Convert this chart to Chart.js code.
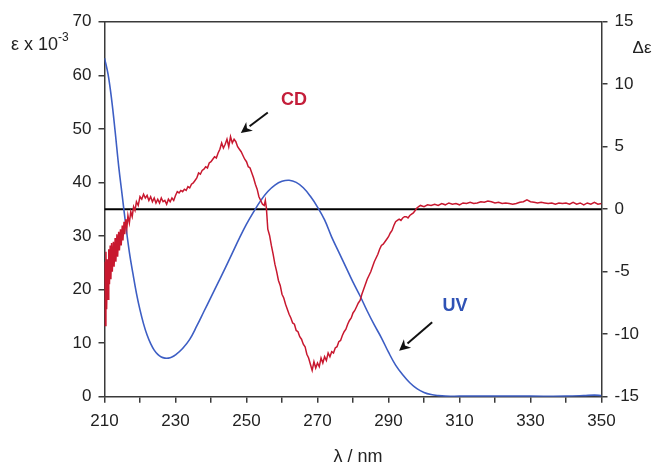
<!DOCTYPE html>
<html><head><meta charset="utf-8">
<script src="https://cdn.jsdelivr.net/npm/chart.js@4/dist/chart.umd.min.js"></script>
<style>html,body{margin:0;padding:0;background:#fff}#wrap{width:655px;height:464px}</style>
</head><body><div id="wrap"><canvas id="c" width="655" height="464"></canvas></div>
<script>
// ---- data ----
const uvWavelengths = [210,211,212,213,214,215,216,217,218,219,220,221,222,223,224,225,226,227,228,229,230,232,234,236,238,240,242,244,246,248,250,252,254,256,258,260,262,264,266,268,270,272,274,276,278,280,282,284,286,288,290,292,294,296,298,300,302,304,306,310,320,330,340,345,348,350];
const uvEpsilon = [63.2,60.2,55.5,49.5,43,37.5,32,27,23,19.3,16.2,13.6,11.5,9.9,8.7,7.9,7.4,7.2,7.2,7.4,7.8,9.0,10.7,13.2,15.9,18.6,21.3,24.0,26.8,29.6,32.2,34.5,36.6,38.3,39.5,40.2,40.4,40.0,39.0,37.4,35.4,33.0,29.8,27.0,24.2,21.4,18.8,16.0,13.4,11.0,8.3,5.9,4.1,2.6,1.5,0.8,0.4,0.2,0.1,0.1,0.1,0.1,0.1,0.2,0.3,0.2];

const cdWavelengths = [210.0,210.2,210.4,210.6,210.8,211.0,211.2,211.4,211.6,211.8,212.0,212.2,212.5,212.7,213.0,213.2,213.5,213.7,214.0,214.2,214.5,214.7,215.0,215.2,215.5,215.7,216.0,216.3,216.6,217.0,217.4,217.8,218.2,218.6,219.0,219.5,
220.0,220.5,221.0,221.5,222.0,222.5,223.0,223.5,224.0,224.5,225.0,225.5,226.0,226.5,227.0,227.5,228.0,228.5,229.0,229.5,
230.0,230.5,231.0,231.5,232.0,232.5,233.0,233.5,234.0,234.5,235.0,235.5,236.0,236.5,237.0,237.5,238.0,238.5,239.0,239.5,
240.0,240.5,241.0,241.5,242.0,242.5,243.0,243.5,244.0,244.5,245.0,245.5,246.0,246.5,247.0,247.5,248.0,248.5,249.0,249.5,
250.0,250.5,251.0,251.5,252.0,252.5,253.0,253.5,254.0,254.5,255.0,255.3,255.6,256.0,256.5,257.0,257.5,258.0,258.5,259.0,259.5,
260.0,260.5,261.0,261.5,262.0,262.5,263.0,263.5,264.0,264.5,265.0,265.5,266.0,266.5,267.0,267.5,268.0,268.5,269.0,269.5,
270.0,270.5,271.0,271.5,272.0,272.5,273.0,273.5,274.0,274.5,275.0,275.5,276.0,276.5,277.0,277.5,278.0,278.5,279.0,279.5,
280.0,280.5,281.0,281.5,282.0,282.5,283.0,283.5,284.0,284.5,285.0,285.5,286.0,286.5,287.0,287.5,288.0,288.5,289.0,289.5,
290.0,290.5,291.0,291.5,292.0,292.5,293.0,293.5,294.0,294.5,295.0,295.5,296.0,296.5,297.0,297.5,298.0,298.5,299.0,
300,301,302,303,304,305,306,307,308,309,310,311,312,313,314,315,316,317,318,319,320,321,322,323,324,325,326,327,328,329,
330,331,332,333,334,335,336,337,338,339,340,341,342,343,344,345,346,347,348,349,350];
const cdDeltaEps = [-4.2,-9.3,-3.4,-8.0,-4.0,-7.2,-3.2,-6.0,-2.9,-5.6,-2.7,-5.0,-2.6,-4.6,-2.3,-4.2,-2.0,-3.8,-1.8,-3.3,-1.6,-2.9,-1.3,-2.5,-1.0,-2.0,-0.8,-1.5,-0.5,-1.1,-0.2,-0.6,0.2,-0.1,0.6,0.3,
1.0,0.8,1.2,0.9,1.1,0.7,1.0,0.6,0.9,0.5,0.8,0.5,0.9,0.6,0.7,0.4,0.8,0.6,0.9,0.7,
1.1,1.4,1.3,1.5,1.4,1.6,1.5,1.8,1.7,2.0,2.1,2.3,2.5,2.9,2.8,3.1,3.2,3.4,3.3,3.7,
3.8,4.0,4.2,4.1,4.5,4.8,5.3,4.9,5.2,5.6,5.0,5.8,5.3,5.6,5.4,5.0,4.8,4.6,4.3,4.0,
3.8,3.4,3.3,2.9,2.5,2.0,1.6,1.0,0.7,0.4,0.3,0.7,0.1,-1.6,-2.1,-2.9,-3.6,-4.4,-5.0,-5.7,-6.1,
-6.8,-7.1,-7.6,-8.0,-8.4,-8.7,-9.1,-9.2,-9.7,-9.8,-10.2,-10.4,-10.8,-11.0,-11.6,-11.9,-12.4,-12.9,-12.2,-12.7,
-12.3,-12.6,-11.9,-12.3,-11.8,-12.1,-11.5,-11.8,-11.4,-11.5,-11.1,-11.0,-10.6,-10.5,-10.1,-9.8,-9.6,-9.2,-8.9,-8.7,
-8.3,-8.1,-7.8,-7.5,-7.3,-6.8,-6.4,-6.0,-5.6,-5.3,-5.0,-4.6,-4.2,-3.9,-3.6,-3.2,-2.9,-2.8,-2.6,-2.4,
-2.2,-1.9,-1.7,-1.3,-1.0,-0.9,-0.8,-0.9,-0.7,-0.6,-0.6,-0.7,-0.5,-0.4,-0.3,-0.1,0.1,0.2,0.3,
0.2,0.35,0.3,0.4,0.3,0.45,0.35,0.5,0.4,0.45,0.35,0.5,0.45,0.55,0.45,0.5,0.6,0.55,0.65,0.6,0.5,0.55,0.45,0.5,0.45,0.4,0.45,0.55,0.6,0.75,
0.6,0.55,0.5,0.55,0.5,0.45,0.5,0.4,0.5,0.45,0.5,0.4,0.55,0.4,0.5,0.35,0.5,0.4,0.55,0.4,0.45];

const xLabelTicks = [210,230,250,270,290,310,330,350];
const zeroLine = [0, 0];
const zeroLineX = [210, 350];

// ---- chart ----
const FONT = '"Liberation Sans", Arial, sans-serif';
const AXIS = '#3a3a3a';
const RED = '#c8182f';
const BLUE = '#3d5ec4';

const frameAndText = {
  id: 'frameAndText',
  afterDraw(chart) {
    const ctx = chart.ctx, a = chart.chartArea;
    const x = chart.scales.x, y = chart.scales.y, y2 = chart.scales.y2;
    ctx.save();
    ctx.strokeStyle = AXIS; ctx.lineWidth = 1.5;
    ctx.beginPath(); ctx.moveTo(a.left, a.top); ctx.lineTo(a.right, a.top); ctx.stroke();

    ctx.fillStyle = '#222';
    ctx.textBaseline = 'alphabetic';
    ctx.textAlign = 'left';
    ctx.font = '18px ' + FONT;
    ctx.fillText('ε x 10', 11, 50);
    const w = ctx.measureText('ε x 10').width;
    ctx.font = '12px ' + FONT;
    ctx.fillText('-3', 11 + w, 41);
    ctx.font = '17px ' + FONT;
    ctx.textAlign = 'center';
    ctx.fillText('Δε', 642, 53);
    ctx.font = '18px ' + FONT;
    ctx.fillText('λ / nm', (a.left + a.right) / 2 + 5, 462);

    const arrow = (x1, y1, x2, y2p) => {
      ctx.strokeStyle = '#111'; ctx.fillStyle = '#111'; ctx.lineWidth = 2;
      const ang = Math.atan2(y2p - y1, x2 - x1);
      const hl = 11, hw = 5.5;
      const bx = x2 - hl * Math.cos(ang), by = y2p - hl * Math.sin(ang);
      ctx.beginPath(); ctx.moveTo(x1, y1); ctx.lineTo(bx, by); ctx.stroke();
      ctx.beginPath();
      ctx.moveTo(x2, y2p);
      ctx.lineTo(bx + hw * Math.sin(ang), by - hw * Math.cos(ang));
      ctx.lineTo(bx + 0.3 * hl * Math.cos(ang), by + 0.3 * hl * Math.sin(ang));
      ctx.lineTo(bx - hw * Math.sin(ang), by + hw * Math.cos(ang));
      ctx.closePath(); ctx.fill();
    };
    ctx.font = 'bold 18px ' + FONT;
    ctx.textAlign = 'center'; ctx.textBaseline = 'middle';
    ctx.fillStyle = '#c41e3a';
    ctx.fillText('CD', x.getPixelForValue(263.4), y2.getPixelForValue(8.7));
    arrow(x.getPixelForValue(256.0), y2.getPixelForValue(7.74), x.getPixelForValue(248.4), y2.getPixelForValue(6.1));
    ctx.font = 'bold 18px ' + FONT;
    ctx.textAlign = 'center'; ctx.textBaseline = 'middle';
    ctx.fillStyle = '#2f52b5';
    ctx.fillText('UV', x.getPixelForValue(308.7), y.getPixelForValue(17.0));
    arrow(x.getPixelForValue(302.3), y.getPixelForValue(13.9), x.getPixelForValue(293.0), y.getPixelForValue(8.6));
    ctx.restore();
  }
};

new Chart(document.getElementById('c'), {
  type: 'line',
  data: {
    datasets: [
      {
        label: 'CD',
        data: cdWavelengths.map((w, i) => ({ x: w, y: cdDeltaEps[i] })),
        yAxisID: 'y2', borderColor: RED, borderWidth: 1.5, pointRadius: 0, tension: 0
      },
      {
        label: 'UV',
        data: uvWavelengths.map((w, i) => ({ x: w, y: uvEpsilon[i] })),
        yAxisID: 'y', borderColor: BLUE, borderWidth: 1.6, pointRadius: 0, tension: 0.4
      },
      {
        label: 'zero',
        data: zeroLineX.map((w, i) => ({ x: w, y: zeroLine[i] })),
        yAxisID: 'y2', borderColor: '#000', borderWidth: 2, pointRadius: 0
      }
    ]
  },
  options: {
    responsive: false, animation: false, devicePixelRatio: 1,
    layout: { padding: { top: 21.7, left: 0, right: 0, bottom: 0 } },
    plugins: { legend: { display: false }, tooltip: { enabled: false } },
    scales: {
      x: {
        type: 'linear', min: 210, max: 350,
        afterFit: s => { s.height = 464 - 396.7; },
        afterBuildTicks: s => { s.ticks = []; for (let v = 210; v <= 350; v += 10) s.ticks.push({ value: v }); },
        ticks: {
          autoSkip: false, maxRotation: 0, padding: 8, color: '#222',
          font: { family: FONT, size: 17 },
          callback: v => xLabelTicks.includes(v) ? String(v) : ''
        },
        grid: { drawOnChartArea: false, drawTicks: true, tickLength: 6, color: AXIS, lineWidth: 1.5 },
        border: { color: AXIS, width: 1.5 }
      },
      y: {
        position: 'left', min: 0, max: 70,
        afterFit: s => { s.width = 104.5; },
        ticks: { stepSize: 10, padding: 7, color: '#222', font: { family: FONT, size: 17 } },
        grid: { drawOnChartArea: false, drawTicks: true, tickLength: 6, color: AXIS, lineWidth: 1.5 },
        border: { color: AXIS, width: 1.5 }
      },
      y2: {
        position: 'right', min: -15, max: 15,
        afterFit: s => { s.width = 655 - 601.5; },
        ticks: { stepSize: 5, padding: 7, color: '#222', font: { family: FONT, size: 17 } },
        grid: { drawOnChartArea: false, drawTicks: true, tickLength: 6, color: AXIS, lineWidth: 1.5 },
        border: { color: AXIS, width: 1.5 }
      }
    }
  },
  plugins: [frameAndText]
});
</script></body></html>
